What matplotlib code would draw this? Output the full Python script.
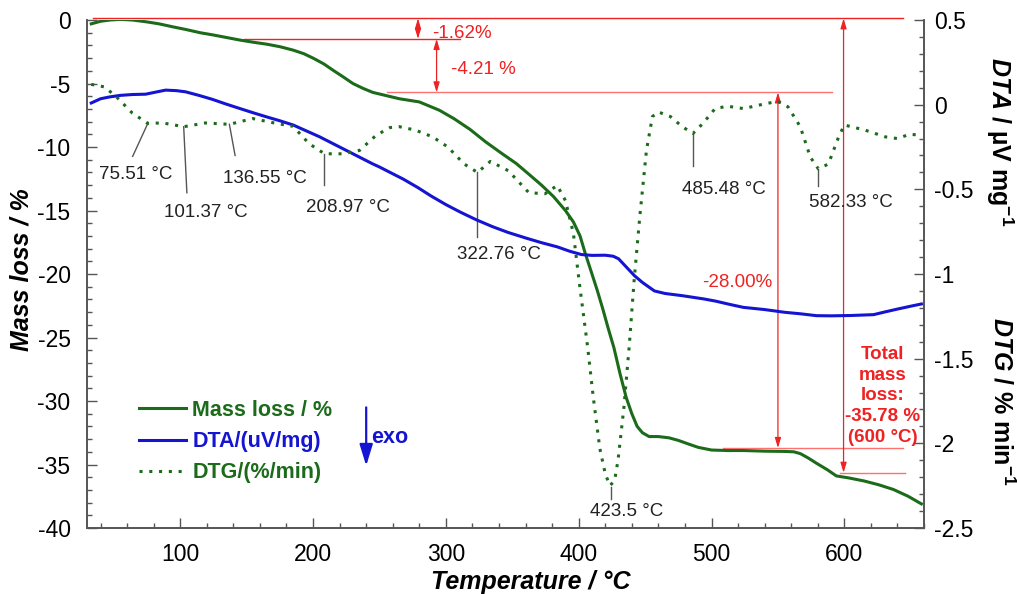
# TG / DTA / DTG 热分析曲线
import matplotlib
matplotlib.use('Agg')
import matplotlib.pyplot as plt
from matplotlib.lines import Line2D
from matplotlib.ticker import MultipleLocator, FuncFormatter

plt.rcParams['font.family'] = ['Liberation Sans', 'DejaVu Sans']
plt.rcParams['axes.unicode_minus'] = False
plt.rcParams['mathtext.fontset'] = 'custom'
plt.rcParams['mathtext.rm'] = 'Liberation Sans:bold'
plt.rcParams['mathtext.it'] = 'Liberation Sans:italic:bold'
plt.rcParams['mathtext.bf'] = 'Liberation Sans:bold'

# 质量损失曲线 (左轴, %)
T_mass = [33, 40, 47, 55, 64, 75, 84, 95, 104, 115, 125, 135, 145, 155, 165, 175, 185, 193,
          200, 208, 215, 223, 230, 238, 245, 255, 265, 280, 295, 306, 318, 330, 342, 353,
          362, 372, 381, 390, 396, 401, 405, 410, 414, 418, 422, 426.5, 431, 435.7, 440,
          444, 448, 453, 460, 468, 475, 483, 490, 500, 512, 524, 540, 555, 562, 567, 573,
          579, 587, 594, 603, 615, 626, 637, 648, 658]
mass = [-0.3, -0.1, 0.0, 0.05, 0.0, -0.15, -0.3, -0.55, -0.74, -1.0, -1.18, -1.38, -1.58,
        -1.75, -1.9, -2.1, -2.37, -2.65, -3.0, -3.45, -3.95, -4.5, -5.0, -5.4, -5.7, -5.95,
        -6.2, -6.45, -7.1, -7.76, -8.6, -9.6, -10.5, -11.3, -12.1, -13.0, -13.9, -15.0,
        -15.9, -17.0, -18.4, -20.0, -21.3, -22.7, -24.2, -25.8, -27.8, -29.7, -31.0, -32.0,
        -32.5, -32.8, -32.8, -32.9, -33.1, -33.4, -33.65, -33.86, -33.9, -33.9, -33.95,
        -33.97, -34.0, -34.15, -34.5, -34.9, -35.4, -35.9, -36.05, -36.3, -36.6, -36.97,
        -37.5, -38.1]

# DTA 曲线 (右轴)
T_dta = [33, 40, 47, 55, 64, 74, 82, 89, 97, 104, 114, 124, 134, 145, 155, 165, 175, 185,
         195, 205, 215, 225, 235, 245, 250, 258, 268, 279, 289, 300, 311, 323, 335, 347,
         360, 372, 384, 393, 402, 410, 420, 426, 430, 436, 442, 448, 457, 465, 478, 494,
         503, 514, 524, 540, 555, 567, 579, 590, 605, 622, 630, 640, 650, 658]
dta = [0.01, 0.035, 0.046, 0.055, 0.06, 0.062, 0.075, 0.086, 0.083, 0.076, 0.055, 0.032,
       0.005, -0.023, -0.048, -0.072, -0.095, -0.12, -0.155, -0.19, -0.23, -0.27, -0.31,
       -0.35, -0.368, -0.4, -0.44, -0.49, -0.54, -0.59, -0.635, -0.68, -0.72, -0.755,
       -0.787, -0.815, -0.84, -0.865, -0.885, -0.89, -0.889, -0.895, -0.91, -0.96, -1.01,
       -1.05, -1.1, -1.115, -1.128, -1.147, -1.16, -1.18, -1.197, -1.21, -1.226, -1.235,
       -1.246, -1.247, -1.245, -1.24, -1.225, -1.207, -1.19, -1.177]

# DTG 曲线 (右轴)
T_dtg = [33, 43, 52, 64, 75.5, 87, 102.6, 119, 137, 154.6, 172, 185, 197, 208.6, 222.5, 235,
         247.6, 258, 265, 277, 290, 301.5, 313.7, 323.8, 333.5, 347, 362.5, 374.7, 383.8,
         390, 396, 400.6, 406.7, 411, 415.9, 420, 423.5, 427, 429.6, 434, 438, 441.8, 446,
         451, 455.5, 460, 469, 478, 486, 493.6, 502.7, 512, 524, 539, 550, 557.6, 566.8,
         574.4, 580.5, 588, 595.7, 600, 615.5, 630.8, 640, 649, 658]
dtg = [0.12, 0.105, 0.046, -0.05, -0.11, -0.108, -0.13, -0.108, -0.116, -0.082, -0.11,
       -0.128, -0.23, -0.29, -0.29, -0.27, -0.18, -0.135, -0.13, -0.15, -0.19, -0.25, -0.35,
       -0.4, -0.335, -0.39, -0.52, -0.526, -0.477, -0.566, -0.76, -1.06, -1.43, -1.73,
       -2.03, -2.18, -2.25, -2.22, -2.1, -1.79, -1.43, -1.03, -0.66, -0.27, -0.07, -0.043,
       -0.07, -0.13, -0.17, -0.11, -0.023, -0.009, -0.023, 0.003, 0.02, -0.013, -0.13,
       -0.31, -0.38, -0.35, -0.19, -0.12, -0.15, -0.19, -0.2, -0.175, -0.18]

# 峰值标注: 文字, 引线起点, 引线终点, 文字中心 (DTG 坐标)
peak_labels = ['75.51 °C', '101.37 °C', '136.55 °C', '208.97 °C', '322.76 °C',
               '423.5 °C', '485.48 °C', '582.33 °C']
peak_lines = [((75.5, -0.112), (64.2, -0.305)), ((102.6, -0.13), (105, -0.52)),
              ((137, -0.116), (141.3, -0.3)), ((208.6, -0.29), (208.6, -0.477)),
              ((323.8, -0.4), (323.8, -0.78)), ((424.4, -2.26), (424.4, -2.33)),
              ((486, -0.17), (486, -0.36)), ((580.5, -0.38), (580.5, -0.48))]
peak_text_pos = [(66.7, -0.41), (119.4, -0.635), (163.4, -0.437), (226, -0.609),
                 (340, -0.885), (436.3, -2.40), (509, -0.5), (605, -0.576)]

# 失重台阶
start_level = 0.13
steps = [-1.62, -4.21, -28.00]
total_loss = -35.78

green = '#1b6b1b'
blue = '#1414d2'
red = '#ee2222'
pink = '#ff7070'
gray = '#555555'

fig = plt.figure(figsize=(10.17, 5.94), dpi=100)
ax = fig.add_axes([0.0858, 0.1111, 0.8228, 0.8552])
ax2 = ax.twinx()

ax.plot(T_mass, mass, color=green, lw=2.2, zorder=3)
ax2.plot(T_dta, dta, color=blue, lw=2.2, zorder=3)
ax2.plot(T_dtg, dtg, color=green, lw=2.2, linestyle=(0, (1, 2.2)), zorder=3)

ax.set_xlim(30, 660)
ax.set_ylim(-40, 0)
ax2.set_ylim(-2.5, 0.5)
ax.xaxis.set_major_locator(MultipleLocator(100))
ax.xaxis.set_minor_locator(MultipleLocator(20))
ax.yaxis.set_major_locator(MultipleLocator(5))
ax.yaxis.set_minor_locator(MultipleLocator(1))
ax2.yaxis.set_major_locator(MultipleLocator(0.5))
ax2.yaxis.set_minor_locator(MultipleLocator(0.1))
fmt = FuncFormatter(lambda v, p: '%g' % round(v, 2))
ax.yaxis.set_major_formatter(fmt)
ax2.yaxis.set_major_formatter(fmt)
ax.set_xticks([100, 200, 300, 400, 500, 600])

for a in (ax, ax2):
    a.spines['top'].set_visible(False)
    for s in ('left', 'right', 'bottom'):
        a.spines[s].set_color(gray)
        a.spines[s].set_linewidth(1.2)
    a.tick_params(which='both', direction='in', color=gray, labelsize=16.5, pad=7)
    a.tick_params(which='major', length=7, width=1)
    a.tick_params(which='minor', length=3.5, width=1)
ax.tick_params(axis='y', right=False, which='both', pad=12)
ax.tick_params(axis='x', top=False, which='both', pad=11)

# 失重台阶标注
levels = [start_level]
for s in steps:
    levels.append(levels[-1] + s)
total_level = start_level + total_loss
ax.plot([34, 644.5], [levels[0]] * 2, color=red, lw=1, clip_on=False)
ax.plot([148, 311], [levels[1]] * 2, color=red, lw=1)
ax.plot([256, 591], [levels[2]] * 2, color=pink, lw=1)
ax.plot([509, 644.5], [levels[3]] * 2, color=pink, lw=1)
ax.plot([597, 646], [total_level] * 2, color=pink, lw=1)

arrow_x = [279, 293, 550]
astyle = '<|-|>,head_length=0.6,head_width=0.18'
for i, xa in enumerate(arrow_x):
    ax.annotate('', xy=(xa, levels[i + 1]), xytext=(xa, levels[i]),
                arrowprops=dict(arrowstyle=astyle, color=red, lw=0.9,
                                shrinkA=0, shrinkB=0), annotation_clip=False)
ax.annotate('', xy=(599.4, total_level), xytext=(599.4, levels[0]),
            arrowprops=dict(arrowstyle=astyle, color=red, lw=0.9, shrinkA=0, shrinkB=0),
            annotation_clip=False)

ax.text(289.6, -1.05, '%.2f%%' % steps[0], color=red, fontsize=13.5, ha='left', va='center')
ax.text(304, -3.87, '%.2f %%' % steps[1], color=red, fontsize=13.5, ha='left', va='center')
ax.text(519.5, -20.65, '%.2f%%' % steps[2], color=red, fontsize=13.5, ha='center', va='center')
ax.text(629, -29.6, 'Total\nmass\nloss:\n%.2f %%\n(600 °C)' % total_loss, color=red,
        fontsize=13.5, fontweight='bold', ha='center', va='center', linespacing=1.3)

# 峰值温度标注
for lab, (p0, p1), tp in zip(peak_labels, peak_lines, peak_text_pos):
    ax2.plot([p0[0], p1[0]], [p0[1], p1[1]], color=gray, lw=1)
    ax2.text(tp[0], tp[1], lab, fontsize=13.5, color='#222222', ha='center', va='center')

# 图例
handles = [Line2D([], [], color=green, lw=2.2),
           Line2D([], [], color=blue, lw=2.2),
           Line2D([], [], color=green, lw=2.2, linestyle=(0, (1, 2.2)))]
labels = ['Mass loss / %', 'DTA/(uV/mg)', 'DTG/(%/min)']
leg = ax.legend(handles, labels, loc='upper left', bbox_to_anchor=(68.7, -29.9),
                bbox_transform=ax.transData, frameon=False,
                prop={'weight': 'bold', 'size': 15.5}, handlelength=2.2,
                handletextpad=0.3, labelspacing=0.48, borderpad=0, borderaxespad=0)
for t, c in zip(leg.get_texts(), [green, blue, green]):
    t.set_color(c)

# exo 箭头
ax.annotate('', xy=(240, -35.1), xytext=(240, -30.5),
            arrowprops=dict(arrowstyle='-|>,head_length=1.3,head_width=0.4',
                            color=blue, lw=1.6, shrinkA=0, shrinkB=0))
ax.text(244, -32.9, 'exo', color=blue, fontsize=15.5, fontweight='bold', ha='left', va='center')

# 坐标轴标题
fig.text(22 / 1017, 1 - 270 / 594, 'Mass loss / %', rotation=90, fontsize=18,
         fontweight='bold', fontstyle='italic', ha='center', va='center')
fig.text(531 / 1017, 1 - 582 / 594, 'Temperature / °C', fontsize=18,
         fontweight='bold', fontstyle='italic', ha='center', va='center')
fig.text(1000 / 1017, 1 - 142 / 594, r'$\mathit{DTA}$ / µV mg$^{-1}$', rotation=-90,
         fontsize=18, fontweight='bold', ha='center', va='center')
fig.text(1002 / 1017, 1 - 401 / 594, r'$\mathit{DTG}$ / % min$^{-1}$', rotation=-90,
         fontsize=18, fontweight='bold', ha='center', va='center')

fig.savefig('out.png', dpi=100)
